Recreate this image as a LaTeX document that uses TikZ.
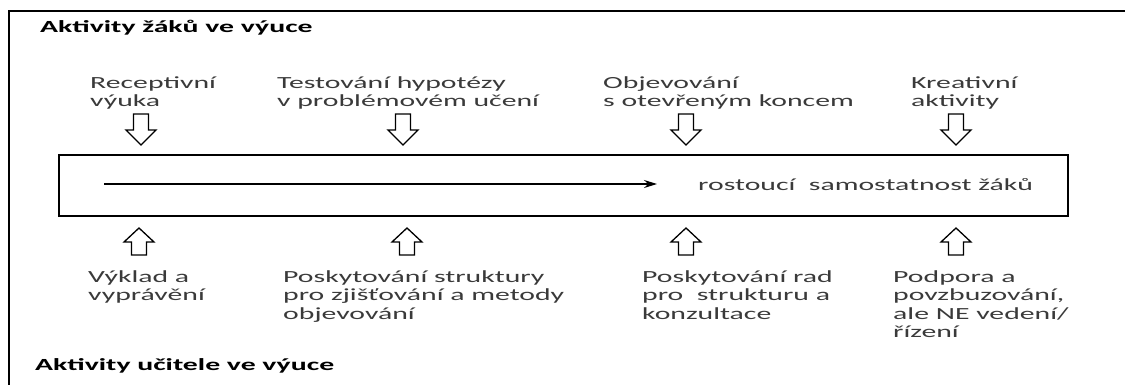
\documentclass[tikz,border=0pt]{standalone}
\usepackage{fontspec}
\setmainfont{Carlito}[FakeStretch=1.75]
\usetikzlibrary{arrows.meta}
\definecolor{labelgrey}{HTML}{3A3A3A}
\tikzset{
  % base of a multi-line node sits on its last line
  activity/.style={anchor=base west, align=left, inner sep=0pt, text=labelgrey,
    font=\fontsize{17}{18.5}\selectfont},
  heading/.style={anchor=base west, inner sep=0pt, text=black,
    font=\fontsize{17}{18.5}\selectfont\bfseries},
  down block/.pic={
    \draw[line width=1.3pt, line join=miter] (-7.5,0) -- (7.5,0) -- (7.5,16) -- (15,16)
      -- (0,31) -- (-15,16) -- (-7.5,16) -- cycle;
  },
  up block/.pic={
    \draw[line width=1.3pt, line join=miter] (-7.5,0) -- (7.5,0) -- (7.5,-13) -- (15,-13)
      -- (0,-27) -- (-15,-13) -- (-7.5,-13) -- cycle;
  }
}
\begin{document}
\begin{tikzpicture}[x=1pt, y=-1pt]
  \useasboundingbox (0,0) rectangle (1125,385);

  % outer frame, only top and left edge visible
  \draw[line width=2.5pt] (9,395) -- (9,11) -- (1135,11);

  \node[heading] (pupils) at (40,33) {Aktivity žáků ve výuce};

  \node[activity] (recept)   at ( 90,107) {Receptivní\\výuka};
  \node[activity] (hypo)     at (277,107) {Testování hypotézy\\v problémovém učení};
  \node[activity] (openend)  at (603,107) {Objevování\\s otevřeným koncem};
  \node[activity] (creative) at (911,107) {Kreativní\\aktivity};

  \pic at (141,114) {down block};
  \pic at (403,114) {down block};
  \pic at (686,114) {down block};
  \pic at (956,114) {down block};

  \node[draw, line width=1.5pt, minimum width=1009pt, minimum height=61pt,
    inner sep=0pt] (band) at (563.5,185.5) {};
  \coordinate (flowstart) at (104,184);
  \coordinate (flowend)   at (657,184);
  \draw[-{Stealth[length=13pt,width=8pt]}, line width=1.3pt] (flowstart) -- (flowend);
  \node[activity] (growth) at (698,190) {rostoucí\ \ samostatnost žáků};

  \pic at (139,255) {up block};
  \pic at (407,255) {up block};
  \pic at (686,255) {up block};
  \pic at (956,255) {up block};

  \node[activity] (lecture)   at ( 88,300.5) {Výklad a\\vyprávění};
  \node[activity] (structure) at (283,319) {Poskytování struktury\\pro zjišťování a metody\\objevování};
  \node[activity] (advice)    at (642,319) {Poskytování rad\\pro\ \ strukturu a\\konzultace};
  \node[activity] (support)   at (893,337.5) {Podpora a\\povzbuzování,\\ale NE vedení/\\řízení};

  \node[heading] (teachers) at (35,370) {Aktivity učitele ve výuce};
\end{tikzpicture}
\end{document}
